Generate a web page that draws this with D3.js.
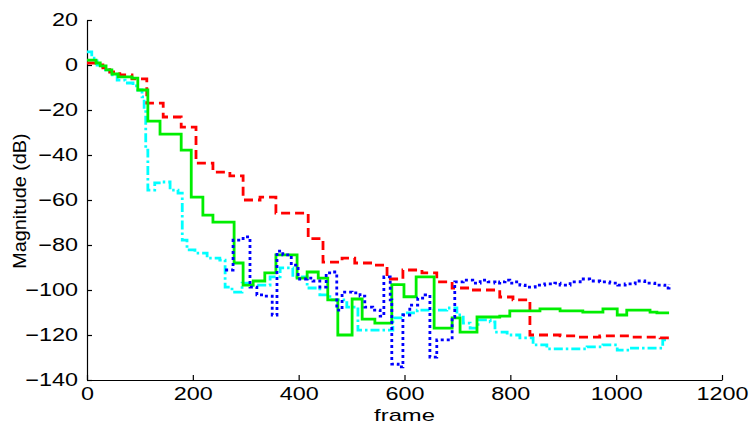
<!DOCTYPE html>
<html>
<head>
<meta charset="utf-8">
<script src="https://cdn.jsdelivr.net/npm/d3@7"></script>
<style>
  body { margin: 0; background: #fff; }
  svg { display: block; }
  text { font-family: "Liberation Sans", Arial, sans-serif; fill: #000; }
</style>
</head>
<body>
<svg id="chart" width="750" height="423"></svg>
<script>
// Axis ticks
const xTicks = [0, 200, 400, 600, 800, 1000, 1200];
const yTicks = [-140, -120, -100, -80, -60, -40, -20, 0, 20];

// Red dashed curve: frame where the level changes, and the new level (dB)
const redFrames = [0, 17, 30, 43, 62, 85, 113, 144, 178, 206, 238, 270, 295, 327, 357, 418, 446, 482, 506, 539, 567, 597, 633, 661, 690, 727, 780, 805, 837, 894, 926, 969, 1026, 1083, 1100];
const redDb     = [0.9, 0, -1.3, -3.1, -4.4, -6.2, -16.9, -23.1, -27.6, -43.6, -47.6, -49.3, -60, -58.7, -65.8, -77.2, -87.6, -85.8, -88, -88.9, -95.1, -91.1, -92.4, -96.4, -99.1, -100, -103.1, -104.4, -120, -120.4, -120.9, -120.4, -120.9, -121.3, -121.3];

// Green solid curve
const greenFrames = [0, 17, 25, 36, 47, 59, 85, 96, 115, 138, 178, 197, 219, 238, 278, 295, 314, 336, 357, 397, 416, 437, 455, 474, 501, 520, 544, 576, 599, 622, 656, 690, 705, 737, 780, 799, 856, 894, 918, 937, 975, 1002, 1020, 1064, 1077, 1100];
const greenDb     = [2.2, 0.9, -0.4, -2.2, -4, -5.3, -5.8, -11.1, -24.9, -30.7, -37.8, -58.7, -66.7, -69.8, -88, -97.8, -96, -92.4, -84.4, -94.7, -92, -94.7, -104.4, -120, -104, -112.9, -114.7, -97.6, -103, -94.2, -116.9, -112.4, -118.7, -112, -111.6, -109.3, -108.4, -109.3, -109.3, -109.8, -108.4, -111.1, -108.9, -109.8, -110.2, -110.2];

// Blue dotted curve
const blueFrames = [261, 276, 295, 308, 321, 336, 350, 359, 370, 386, 399, 416, 427, 440, 452, 463, 472, 482, 501, 516, 525, 540, 554, 561, 573, 576, 588, 597, 610, 625, 639, 648, 661, 690, 695, 711, 729, 743, 758, 771, 780, 790, 799, 809, 818, 828, 847, 865, 884, 894, 913, 932, 950, 969, 988, 1003, 1017, 1036, 1054, 1073, 1092, 1100];
const blueDb     = [-91.1, -77.8, -76.4, -98.7, -102.2, -102.7, -111.1, -82.7, -84.4, -88.9, -95.1, -94.7, -96, -98.7, -92.4, -92, -108.9, -100.9, -101.3, -102.7, -107.6, -108.9, -111.6, -94.2, -104.4, -132.9, -134.2, -111.1, -106.7, -103.6, -102.2, -129.8, -122.2, -112, -96.4, -95.6, -96.9, -95.6, -96.4, -96.9, -96.4, -95.6, -96.9, -96.4, -97.8, -98.7, -97.8, -97.3, -96.9, -97.8, -96.4, -95.1, -96, -96.4, -96.9, -97.8, -97.3, -96, -96.9, -97.8, -99.1, -97.3];

// Cyan dash-dot curve
const cyanFrames = [0, 9, 19, 30, 43, 57, 72, 87, 96, 104, 108, 111, 115, 128, 142, 157, 172, 180, 189, 204, 227, 251, 261, 274, 293, 312, 346, 365, 389, 416, 440, 459, 491, 512, 578, 597, 624, 680, 699, 711, 724, 739, 762, 771, 794, 818, 843, 869, 945, 975, 1002, 1026, 1058, 1088, 1100];
const cyanDb     = [5.8, 3.1, 0, -2.2, -4.4, -6.7, -8, -9.3, -11.1, -14.2, -20, -37.8, -55.6, -52.4, -52, -55.6, -56.9, -77.8, -82.2, -83.6, -85.8, -86.7, -98.7, -100.9, -96.9, -97.8, -94.2, -90.2, -94.2, -99.1, -102.2, -104.4, -107.6, -117.8, -112.4, -110.2, -108.9, -108, -111.1, -114.7, -116.9, -113.3, -114.2, -118.7, -120, -121.3, -124.4, -126.2, -125.3, -124.4, -126.7, -125.8, -125.8, -122.2, -122.2];

const svg = d3.select("#chart");

const x = d3.scaleLinear().domain([0, 1200]).range([87, 722]);
const y = d3.scaleLinear().domain([-140, 20]).range([380, 20]);

// Wide tick lettering: stretch glyphs horizontally around the anchor point
function stretch(sel, sx) {
  sel.each(function () {
    const t = d3.select(this);
    const tx = +t.attr("x") || 0;
    t.attr("transform", `translate(${tx},0) scale(${sx},1) translate(${-tx},0)`);
  });
}

// Bottom axis with inward ticks
const xAxis = svg.append("g")
  .attr("transform", `translate(0,${y(-140)})`)
  .call(d3.axisBottom(x).tickValues(xTicks).tickFormat(d3.format("d"))
    .tickSizeInner(-5).tickSizeOuter(0).tickPadding(7));
xAxis.selectAll("text").attr("font-size", 18).attr("font-family", "Liberation Sans, Arial, sans-serif")
  .call(stretch, 1.3);

// Left axis with inward ticks
const yAxis = svg.append("g")
  .attr("transform", `translate(${x(0)},0)`)
  .call(d3.axisLeft(y).tickValues(yTicks).tickFormat(d3.format("d"))
    .tickSizeInner(-5).tickSizeOuter(0).tickPadding(9));
yAxis.selectAll("text").attr("font-size", 18).attr("font-family", "Liberation Sans, Arial, sans-serif")
  .attr("x", -9).call(stretch, 1.3);

svg.selectAll(".domain, .tick line").attr("stroke", "#000").attr("stroke-width", 1.2);

// Axis titles
svg.append("text")
  .attr("x", 0).attr("y", 0)
  .attr("transform", `translate(${x(600)},420.5) scale(1.4,1)`)
  .attr("text-anchor", "middle")
  .attr("font-size", 17)
  .text("frame");

svg.append("text")
  .attr("transform", `translate(26,201) rotate(-90) scale(1.1,1)`)
  .attr("text-anchor", "middle")
  .attr("font-size", 18)
  .text("Magnitude (dB)");

// Curves
const line = d3.line()
  .x(d => x(d[0]))
  .y(d => y(d[1]))
  .curve(d3.curveStepAfter);

const series = [
  { f: cyanFrames,  v: cyanDb,  color: "#00ffff", dash: "9,3,2.5,3" },
  { f: redFrames,   v: redDb,   color: "#ff0000", dash: "9,5" },
  { f: greenFrames, v: greenDb, color: "#00ee00", dash: null },
  { f: blueFrames,  v: blueDb,  color: "#0000ff", dash: "3,3" }
];

svg.append("g").selectAll("path")
  .data(series)
  .join("path")
  .attr("d", s => line(s.f.map((fr, i) => [fr, s.v[i]])))
  .attr("fill", "none")
  .attr("stroke", s => s.color)
  .attr("stroke-width", 2.8)
  .attr("stroke-linejoin", "miter")
  .attr("stroke-dasharray", s => s.dash);
</script>
</body>
</html>
